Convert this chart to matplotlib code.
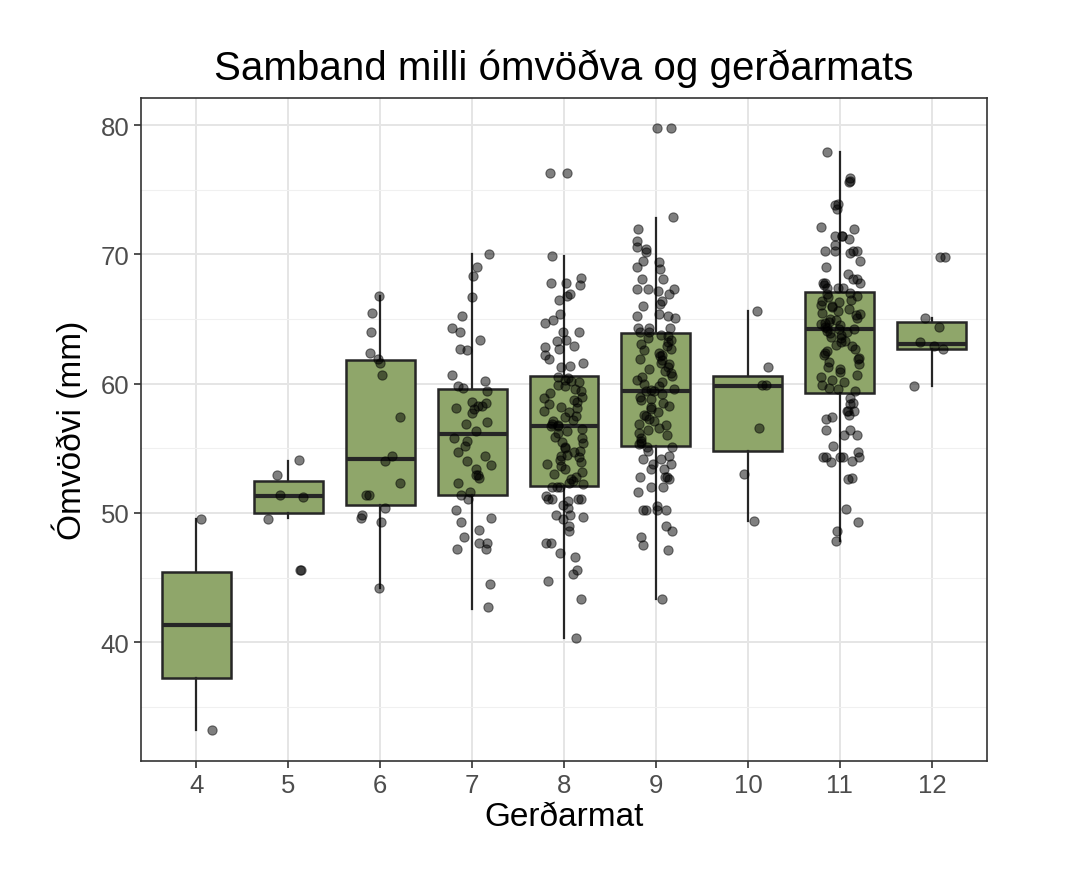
"""Boxplot of ómvöðvi against gerðarmat with jittered observations."""

import numpy as np
import matplotlib
matplotlib.use("Agg")
import matplotlib.pyplot as plt

plt.rcParams["font.family"] = ["Liberation Sans", "DejaVu Sans"]

# Category labels on the x axis
grades = [4, 5, 6, 7, 8, 9, 10, 11, 12]

# Box statistics: (whislo, q1, median, q3, whishi)
box_stats = [
    (33.2, 37.2, 41.3, 45.4, 49.5),
    (49.6, 50.0, 51.3, 52.5, 54.0),
    (44.2, 50.6, 54.2, 61.8, 66.8),
    (42.6, 51.4, 56.1, 59.6, 70.0),
    (40.3, 52.1, 56.7, 60.6, 69.9),
    (43.3, 55.2, 59.4, 63.9, 72.8),
    (49.4, 54.8, 59.8, 60.6, 65.6),
    (47.8, 59.3, 64.2, 67.1, 77.9),
    (59.8, 62.7, 63.1, 64.8, 65.1),
]

# Observations (mm) per grade
obs_4 = [49.5, 33.2]
obs_5 = [54.1, 52.9, 51.4, 51.2, 49.5, 45.6, 45.6]
obs_6 = [66.8, 65.5, 64.0, 62.4, 61.9, 61.6, 60.7, 57.4, 54.4, 54.0, 52.3,
         51.4, 51.4, 50.4, 49.8, 49.6, 49.3, 44.2]
obs_7 = [70.0, 69.0, 68.3, 66.7, 65.2, 64.3, 64.0, 63.4, 62.7, 62.6, 60.7,
         60.2, 59.8, 59.7, 59.4, 58.6, 58.5, 58.3, 58.3, 58.1, 58.0, 57.7,
         57.0, 56.9, 56.3, 55.8, 55.6, 55.2, 54.7, 54.4, 54.0, 53.7, 53.4,
         52.9, 52.9, 52.7, 52.3, 51.6, 51.4, 51.1, 50.2, 49.6, 49.3, 48.7,
         48.1, 47.7, 47.7, 47.2, 47.2, 44.5, 42.7]
obs_8 = [76.3, 76.3, 69.9, 68.2, 67.8, 67.8, 67.6, 66.9, 66.8, 66.5, 65.4,
         64.9, 64.7, 64.0, 64.0, 63.4, 63.3, 62.9, 62.8, 62.7, 62.2, 61.9,
         61.6, 61.4, 61.3, 60.3, 60.1,
         60.5, 60.4, 60.2, 59.9, 59.8, 59.6, 59.4, 59.3, 59.0, 58.9, 58.7,
         58.6, 58.4, 58.2, 58.1, 57.9, 57.8, 57.5, 57.4, 57.2, 57.1, 56.9,
         56.8, 56.7, 56.7, 56.5, 56.3, 56.2, 55.9, 55.8, 55.5, 55.4, 55.1,
         55.0, 54.8, 54.7, 54.5, 54.4, 54.3, 54.1, 53.9, 53.8, 53.6, 53.4,
         53.2, 53.0, 52.8, 52.6, 52.5, 52.3, 52.2,
         52.0, 52.0, 52.0, 51.3, 51.1, 51.1, 51.1, 51.1, 50.9, 50.6, 50.4,
         49.8, 49.8, 49.7, 49.5, 49.0, 48.6, 47.7, 47.7, 46.9, 46.6, 45.6,
         45.3, 44.7, 43.3, 40.3]
obs_9 = [79.8, 79.8, 72.9, 72.0, 71.0, 70.6, 70.4, 70.2, 69.5, 69.4, 69.0,
         68.9, 68.1, 68.1, 67.3, 67.3, 67.3, 67.2, 66.9, 66.4, 66.2, 66.0,
         65.4, 65.2, 65.2, 65.1, 64.3, 64.3, 64.3, 64.0, 64.0,
         63.8, 63.7, 63.5, 63.4, 63.2, 63.1, 62.9, 62.7, 62.6, 62.4, 62.2,
         62.1, 61.9, 61.8, 61.6, 61.5, 61.3, 61.1, 61.0, 60.8, 60.6, 60.5,
         60.3, 60.1, 60.0, 59.8, 59.6, 59.5, 59.4, 59.4, 59.2, 59.0, 58.8,
         58.7, 58.5, 58.3, 58.2, 58.0, 57.8, 57.6, 57.5, 57.3, 57.1, 56.9,
         56.8, 56.6, 56.4, 56.2, 56.0, 55.8, 55.6, 55.4, 55.3,
         55.1, 55.1, 54.8, 54.4, 54.2, 54.2, 53.8, 53.8, 53.4, 53.4, 52.8,
         52.8, 52.8, 52.6, 52.0, 52.0, 51.6, 50.5, 50.2, 50.2, 50.2, 50.2,
         49.0, 48.6, 48.1, 47.5, 47.1, 43.3]
obs_10 = [65.6, 61.3, 59.9, 59.9, 56.6, 53.0, 49.4]
obs_11 = [77.9, 75.9, 75.7, 75.6, 73.9, 73.8, 73.5, 72.1, 72.0, 71.4, 71.4,
          71.4, 71.2, 70.7, 70.3, 70.3, 70.3, 70.3, 70.1, 69.5, 69.0, 68.5,
          68.1, 68.1, 67.8, 67.8, 67.8, 67.6, 67.4, 67.4, 67.4,
          67.0, 66.9, 66.8, 66.7, 66.5, 66.4, 66.3, 66.1, 66.0, 65.9, 65.8,
          65.6, 65.5, 65.4, 65.3, 65.1, 65.0, 64.9, 64.8, 64.7, 64.6, 64.5,
          64.4, 64.3, 64.2, 64.2, 64.1, 64.0, 63.9, 63.8, 63.6, 63.5, 63.3,
          63.2, 63.0, 62.9, 62.7, 62.5, 62.4, 62.2, 62.0, 61.9, 61.7, 61.5,
          61.3, 61.1, 60.9, 60.7, 60.5, 60.3, 60.1, 59.9, 59.7, 59.6, 59.4,
          58.9, 58.5, 58.4, 57.9, 57.9, 57.9, 57.6, 57.4, 57.3, 56.4, 56.4,
          56.0, 56.0, 55.2, 54.7, 54.3, 54.3, 54.3, 54.3, 54.3, 54.0, 53.9,
          52.7, 52.6, 50.3, 49.3, 48.6, 47.8]
obs_12 = [69.8, 69.8, 65.1, 64.4, 63.2, 62.9, 62.7, 59.8]

observations = [obs_4, obs_5, obs_6, obs_7, obs_8, obs_9, obs_10, obs_11, obs_12]


def plot():
    """Create plot."""
    fig = plt.figure(figsize=(10.82, 8.70), dpi=100)
    ax = fig.add_axes([0.1303, 0.1241, 0.7819, 0.7621])

    positions = np.arange(len(grades))
    stats = []
    for lo, q1, med, q3, hi in box_stats:
        stats.append({"whislo": lo, "q1": q1, "med": med, "q3": q3,
                      "whishi": hi, "fliers": []})

    ax.bxp(stats, positions=positions, widths=0.75, patch_artist=True,
           showcaps=False, zorder=2,
           boxprops=dict(facecolor="#8fa66a", edgecolor="#262626", lw=1.8),
           medianprops=dict(color="#262626", lw=3.0),
           whiskerprops=dict(color="#262626", lw=1.6))

    # horizontal jitter for the observations
    rng = np.random.default_rng(7)
    for pos, vals in zip(positions, observations):
        xs = pos + rng.uniform(-0.22, 0.22, len(vals))
        ax.scatter(xs, vals, s=44, color="black", alpha=0.5,
                   linewidths=0.8, edgecolors="black", zorder=3)

    ax.set_xlim(-0.6, len(grades) - 0.4)
    ax.set_ylim(30.8, 82.1)
    ax.set_xticks(positions)
    ax.set_xticklabels([str(g) for g in grades])
    ax.set_yticks([40, 50, 60, 70, 80])
    ax.set_yticks([35, 45, 55, 65, 75], minor=True)
    ax.grid(True, which="major", color="#e5e5e5", lw=1.4, zorder=0)
    ax.grid(True, which="minor", axis="y", color="#f0f0f0", lw=0.8, zorder=0)
    ax.set_axisbelow(True)

    ax.tick_params(axis="both", which="major", labelsize=18.5,
                   labelcolor="#4d4d4d", color="#333333", length=5, width=1.2)
    ax.tick_params(axis="y", which="minor", length=0)
    for spine in ax.spines.values():
        spine.set_color("#333333")
        spine.set_linewidth(1.2)

    ax.set_xlabel("Gerðarmat", fontsize=24, labelpad=3)
    ax.set_ylabel("Ómvöðvi (mm)", fontsize=24, labelpad=9)
    ax.set_title("Samband milli ómvöðva og gerðarmats", fontsize=29, pad=14)

    plt.savefig("out.png", dpi=100)


if __name__ == "__main__":
    plot()
